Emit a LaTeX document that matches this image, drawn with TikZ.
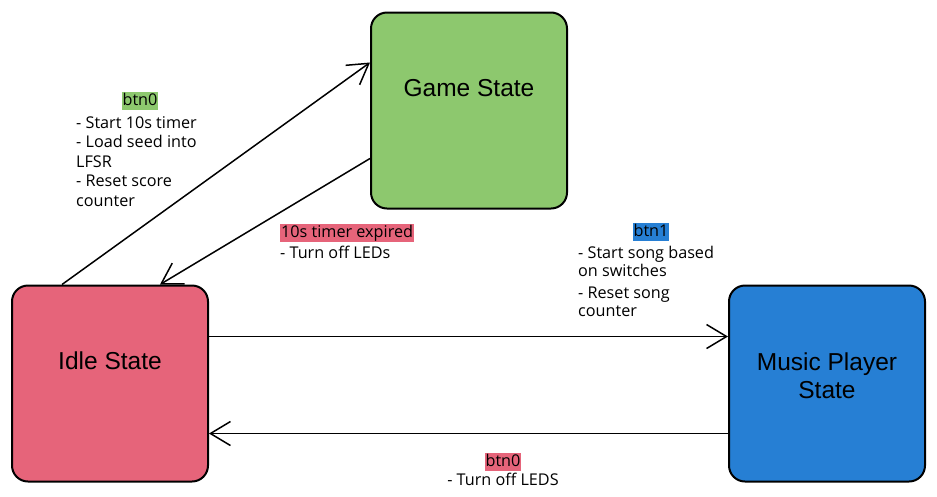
\documentclass[tikz,border=0pt]{standalone}
\usepackage{fontspec}
\setmainfont{Liberation Sans}
\newfontfamily\lblfont{Open Sans}
\usetikzlibrary{
    arrows.meta,
    calc,
    positioning
}
\definecolor{gamegreen}{RGB}{141,200,110}
\definecolor{idlered}{RGB}{230,100,122}
\definecolor{musicblue}{RGB}{38,127,212}
\tikzset{
    state/.style={draw, line width=2pt, rounded corners=16pt,
        minimum width=196pt, minimum height=196pt},
    title/.style={font=\fontsize{24.5}{28}\selectfont, align=center},
    trans/.style={line width=1.5pt, -{Straight Barb[length=20pt, width=24pt]}},
    hl/.style={inner xsep=1pt, inner ysep=1.5pt, text height=12pt, text depth=3.5pt,
        font=\lblfont\fontsize{16.2}{19}\selectfont},
    note/.style={inner sep=0pt, align=left, anchor=north west,
        font=\lblfont\fontsize{16.2}{19.5}\selectfont}
}

\begin{document}
\begin{tikzpicture}[x=1pt, y=-1pt]
    \useasboundingbox (0, 0) rectangle (937, 496);

    % states
    \node[state, fill=gamegreen] (game) at (469, 110.5) {};
    \node[state, fill=idlered] (idle) at (110, 383.5) {};
    \node[state, fill=musicblue] (music) at (827, 383.5) {};
    \node[title] (gametxt) at (469, 88) {Game State};
    \node[title] (idletxt) at (110, 361) {Idle State};
    \node[title] (musictxt) at (827, 376) {Music Player\\State};

    % transitions
    \draw[trans] ([xshift=-48pt]idle.north) -- ([yshift=48pt]game.west);
    \draw[trans] ([yshift=-48pt]game.west) -- ([xshift=50pt]idle.north);
    \draw[trans] ([yshift=47pt]idle.east) -- ([yshift=47pt]music.west);
    \draw[trans] ([yshift=-50pt]music.west) -- ([yshift=-50pt]idle.east);

    % idle -> game
    \node[hl, fill=gamegreen] (startkey) at (140, 101) {btn0};
    \node[note] (startnote) at (76, 116) {- Start 10s timer\\- Load seed into\\LFSR\\- Reset score\\counter};

    % game -> idle
    \node[hl, fill=idlered, anchor=west] (expkey) at (280, 233) {10s timer expired};
    \node[note] (expnote) at (280, 246) {- Turn off LEDs};

    % idle -> music
    \node[hl, fill=musicblue] (songkey) at (651, 232) {btn1};
    \node[note, font=\lblfont\fontsize{16.2}{18}\selectfont] (songnote) at (578, 246)
        {- Start song based\\on switches\\[4pt]- Reset song\\counter};

    % music -> idle
    \node[hl, fill=idlered] (stopkey) at (503, 462) {btn0};
    \node[hl] (stopnote) at (503, 481) {- Turn off LEDS};
\end{tikzpicture}
\end{document}
